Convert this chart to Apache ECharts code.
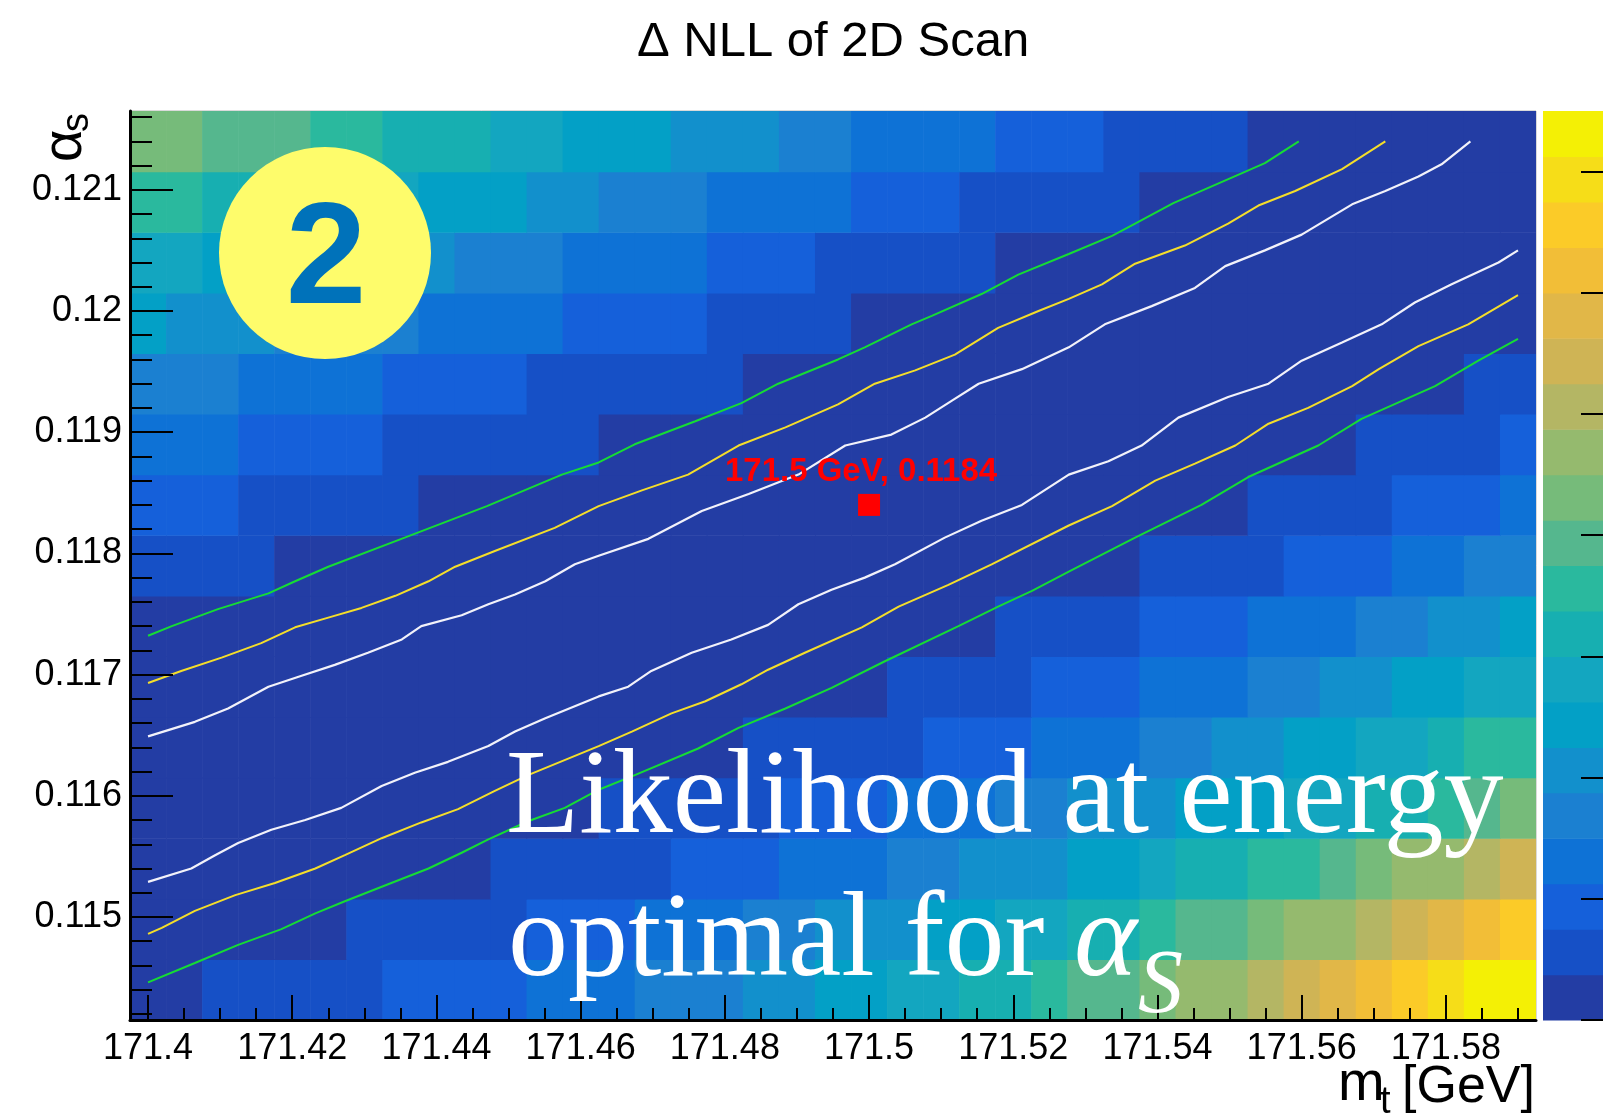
<!DOCTYPE html>
<html>
<head>
<meta charset="utf-8">
<script src="https://cdn.jsdelivr.net/npm/echarts@6.0.0/dist/echarts.min.js"></script>
<style>
  html, body { margin: 0; padding: 0; background: #fff; }
  #main { width: 1603px; height: 1116px; }
</style>
</head>
<body>
<div id="main"></div>
<script>
// bin centres of the scan
var mtCenters = [171.4, 171.405, 171.41, 171.415, 171.42, 171.425, 171.43, 171.435, 171.44, 171.445,
  171.45, 171.455, 171.46, 171.465, 171.47, 171.475, 171.48, 171.485, 171.49, 171.495,
  171.5, 171.505, 171.51, 171.515, 171.52, 171.525, 171.53, 171.535, 171.54, 171.545,
  171.55, 171.555, 171.56, 171.565, 171.57, 171.575, 171.58, 171.585, 171.59];
var alphaCenters = [0.1144, 0.1149, 0.1154, 0.1159, 0.1164, 0.1169, 0.1174, 0.1179,
  0.1184, 0.1189, 0.1194, 0.1199, 0.1204, 0.1209, 0.1214];

// delta NLL, one row per alpha_s bin
var nll_1144 = [0.3,0.35, 0.4,0.5,0.6,0.6,0.7, 0.8,0.9,1.0,1.1, 1.2,1.3,1.4, 1.6,1.7,1.8, 1.9,2.1, 2.4,2.5, 2.7,2.9, 3.1,3.3, 3.6, 3.9,4.0, 4.3, 4.6,4.8, 5.0, 5.4, 5.8, 6.2, 6.6, 6.9, 7.2,7.4];
var nll_1149 = [0.3,0.2,0.1,0.1,0.2,0.3, 0.4,0.5,0.6,0.6,0.7, 0.8,0.9,1.0, 1.2,1.3,1.4, 1.6,1.8, 1.9,2.1,2.2, 2.4,2.5, 2.7,2.9, 3.1,3.3, 3.6,3.9,4.0, 4.3, 4.6,4.8, 5.0, 5.4, 5.8, 6.2, 6.6];
var nll_1154 = [0.35,0.3,0.2,0.1,0.1,0.05,0.1,0.2,0.3,0.35, 0.4,0.5,0.6,0.6,0.7, 0.8,0.9,1.0, 1.2,1.3,1.4, 1.6,1.8, 1.9,2.1,2.2, 2.4,2.5, 2.8, 3.1,3.3, 3.5,3.7, 3.9, 4.3, 4.6,4.8, 5.0, 5.4];
var nll_1159 = [0.35,0.3,0.2,0.2,0.1,0.1,0.05,0.05,0.1,0.1,0.2,0.3,0.35, 0.4,0.5,0.5,0.6,0.7, 0.8,0.9,1.0, 1.2,1.3,1.4, 1.6,1.8, 1.9,2.1,2.2, 2.3,2.4,2.5, 2.7,2.9, 3.1,3.3, 3.5, 3.9, 4.3];
var nll_1164 = [0.35,0.3,0.3,0.2,0.2,0.1,0.1,0.1,0.05,0.05,0.05,0.1,0.1,0.2,0.2,0.3,0.35, 0.4,0.5,0.5,0.6,0.7, 0.8,0.9,1.0, 1.2,1.3,1.4, 1.6,1.8, 2.0,2.2, 2.4,2.5, 2.7,2.9, 3.2, 3.5,3.7];
var nll_1169 = [0.35,0.3,0.3,0.2,0.2,0.1,0.1,0.1,0.05,0.05,0.05,0.05,0.05,0.05,0.1,0.1,0.2,0.2,0.3,0.3,0.35, 0.4,0.5,0.6,0.7, 0.8,0.9,1.0, 1.2,1.3,1.4, 1.6,1.8, 2.0,2.2, 2.4,2.5, 2.7,2.9];
var nll_1174 = [0.35,0.3,0.3,0.2,0.2,0.1,0.1,0.1,0.05,0.05,0.05,0.05,0.05,0.05,0.05,0.05,0.1,0.1,0.1,0.2,0.2,0.3,0.3,0.35, 0.4,0.5,0.6,0.7, 0.8,0.9,1.0, 1.2,1.3,1.4, 1.6,1.8, 2.0,2.2, 2.4];
var nll_1179 = [0.6,0.5,0.5,0.4, 0.3,0.3,0.2,0.2,0.1,0.1,0.1,0.05,0.05,0.05,0.05,0.05,0.05,0.05,0.05,0.1,0.1,0.1,0.2,0.2,0.3,0.3,0.35,0.35, 0.4,0.5,0.6,0.7, 0.8,0.9,1.0, 1.2,1.4, 1.6,1.8];
var nll_1184 = [1.0,0.9,0.8, 0.7,0.6,0.6,0.5,0.4, 0.3,0.3,0.2,0.2,0.1,0.1,0.1,0.05,0.05,0.05,0.05,0.05,0.05,0.05,0.05,0.1,0.1,0.1,0.2,0.2,0.3,0.3,0.35, 0.4,0.5,0.6,0.7, 0.8,0.9,1.0, 1.2];
var nll_1189 = [1.4,1.3,1.2, 1.0,1.0,0.9,0.8, 0.7,0.7,0.6,0.5,0.5,0.4, 0.3,0.3,0.2,0.2,0.1,0.1,0.1,0.05,0.05,0.05,0.05,0.05,0.05,0.05,0.1,0.1,0.1,0.2,0.2,0.3,0.3, 0.4,0.5,0.6,0.7, 0.8];
var nll_1194 = [1.8,1.7,1.6, 1.4,1.4,1.3,1.2, 1.0,1.0,0.9,0.8, 0.7,0.7,0.6,0.5,0.5,0.4, 0.3,0.3,0.2,0.2,0.1,0.1,0.1,0.05,0.05,0.05,0.05,0.05,0.05,0.1,0.1,0.1,0.2,0.2,0.3,0.3, 0.4,0.5];
var nll_1199 = [2.4, 2.2,2.1,2.0, 1.8,1.8,1.7,1.6, 1.4,1.4,1.3,1.2, 1.0,1.0,0.9,0.8, 0.7,0.6,0.5,0.4, 0.3,0.3,0.2,0.2,0.1,0.1,0.1,0.1,0.05,0.05,0.05,0.05,0.05,0.1,0.1,0.1,0.1,0.2,0.2];
var nll_1204 = [2.9,2.8, 2.5,2.4,2.3, 2.2,2.1,2.0,1.9, 1.8,1.7,1.6, 1.4,1.3,1.3,1.2, 1.0,0.9,0.8, 0.7,0.6,0.6,0.5,0.4, 0.3,0.3,0.2,0.2,0.1,0.1,0.1,0.1,0.1,0.1,0.1,0.1,0.1,0.1,0.2];
var nll_1209 = [3.6,3.5, 3.3,3.2,3.1, 2.9,2.8,2.7, 2.5,2.4,2.3, 2.1,2.0, 1.8,1.7,1.6, 1.4,1.3,1.3,1.2, 1.0,0.9,0.8, 0.7,0.6,0.6,0.5,0.4, 0.3,0.3,0.2,0.2,0.2,0.1,0.1,0.1,0.1,0.1,0.1];
var nll_1214 = [4.3,4.2, 4.0,3.9,3.8, 3.6,3.5, 3.3,3.2,3.1, 2.9,2.8, 2.5,2.4,2.3, 2.2,2.1,2.0, 1.8,1.6, 1.4,1.3,1.3,1.2, 1.0,0.9,0.8, 0.7,0.6,0.5,0.4, 0.3,0.3,0.2,0.2,0.2,0.1,0.1,0.1];
var nllRows = [nll_1144, nll_1149, nll_1154, nll_1159, nll_1164, nll_1169, nll_1174, nll_1179,
  nll_1184, nll_1189, nll_1194, nll_1199, nll_1204, nll_1209, nll_1214];

// contour lines (two branches each)
var whiteUpper = [[171.4,0.11649],[171.4065,0.11661],[171.4111,0.11672],[171.4167,0.1169],[171.4213,0.11699],[171.4259,0.11708],[171.4305,0.11718],[171.4352,0.11729],[171.4379,0.1174],[171.4435,0.11749],[171.4472,0.11758],[171.4509,0.11766],[171.4551,0.11777],[171.4592,0.11791],[171.4625,0.11798],[171.4694,0.11812],[171.4768,0.11835],[171.4833,0.11849],[171.4902,0.11865],[171.4967,0.11889],[171.5031,0.11898],[171.5078,0.11912],[171.5115,0.11926],[171.5152,0.1194],[171.5212,0.11952],[171.5277,0.1197],[171.5327,0.11989],[171.5392,0.12004],[171.5452,0.12019],[171.5494,0.12037],[171.5549,0.1205],[171.56,0.12063],[171.567,0.12088],[171.5716,0.12099],[171.5762,0.12111],[171.5794,0.12121],[171.5834,0.1214]];
var whiteLower = [[171.4,0.11529],[171.406,0.1154],[171.4093,0.11551],[171.4125,0.11561],[171.4171,0.11572],[171.4218,0.1158],[171.4268,0.1159],[171.4324,0.11608],[171.437,0.11619],[171.4416,0.11628],[171.4472,0.11641],[171.4509,0.11653],[171.4551,0.11664],[171.4625,0.11682],[171.4666,0.1169],[171.4698,0.11703],[171.4754,0.11718],[171.4809,0.11729],[171.486,0.11741],[171.4902,0.11758],[171.4948,0.1177],[171.4994,0.1178],[171.5036,0.11791],[171.5105,0.11813],[171.5156,0.11827],[171.5212,0.1184],[171.5277,0.11865],[171.5332,0.11876],[171.5378,0.11889],[171.5429,0.11912],[171.5498,0.11929],[171.5554,0.1194],[171.56,0.11959],[171.5656,0.11974],[171.5711,0.11989],[171.5757,0.12007],[171.5808,0.12022],[171.5873,0.1204],[171.59,0.1205]];
var yellowUpper = [[171.4,0.11693],[171.4046,0.11703],[171.4102,0.11714],[171.4157,0.11726],[171.4204,0.11739],[171.425,0.11747],[171.4296,0.11755],[171.4343,0.11765],[171.4389,0.11777],[171.4426,0.11789],[171.4481,0.11802],[171.4564,0.11821],[171.4625,0.11839],[171.4685,0.11852],[171.4749,0.11865],[171.4819,0.11889],[171.4884,0.11904],[171.4957,0.11923],[171.5008,0.1194],[171.5064,0.11951],[171.5119,0.11964],[171.5179,0.11986],[171.5235,0.12],[171.5277,0.1201],[171.5323,0.12022],[171.5369,0.12039],[171.5438,0.12054],[171.5498,0.12072],[171.554,0.12087],[171.5591,0.12099],[171.5656,0.12117],[171.5716,0.1214]];
var yellowLower = [[171.4,0.11486],[171.4019,0.11491],[171.4065,0.11505],[171.4121,0.11518],[171.4176,0.11528],[171.4232,0.1154],[171.4273,0.11551],[171.4324,0.11565],[171.4379,0.11578],[171.443,0.11589],[171.4481,0.11604],[171.4527,0.11617],[171.4625,0.11641],[171.4671,0.11653],[171.4726,0.11668],[171.4773,0.11678],[171.4823,0.11692],[171.486,0.11704],[171.4911,0.11718],[171.499,0.11739],[171.5041,0.11756],[171.511,0.11774],[171.517,0.11791],[171.5277,0.11823],[171.5337,0.11839],[171.5397,0.1186],[171.5452,0.11874],[171.5508,0.11889],[171.5554,0.11907],[171.5609,0.1192],[171.567,0.11938],[171.5707,0.11952],[171.5762,0.11971],[171.5831,0.11989],[171.59,0.12013]];
var greenUpper = [[171.4,0.11732],[171.4033,0.1174],[171.4097,0.11754],[171.4167,0.11767],[171.4204,0.11777],[171.425,0.11789],[171.4356,0.11813],[171.447,0.11839],[171.4574,0.11865],[171.4625,0.11875],[171.4675,0.1189],[171.4759,0.11909],[171.4823,0.11924],[171.4874,0.1194],[171.4957,0.1196],[171.4994,0.1197],[171.5059,0.11989],[171.5087,0.11996],[171.5156,0.12014],[171.5207,0.1203],[171.5277,0.12047],[171.5337,0.12062],[171.5369,0.12072],[171.5422,0.12089],[171.5503,0.1211],[171.5549,0.12122],[171.5596,0.1214]];
var greenLower = [[171.4,0.11446],[171.4065,0.11462],[171.4125,0.11477],[171.4185,0.1149],[171.4232,0.11503],[171.4273,0.11513],[171.4333,0.11527],[171.4389,0.1154],[171.4435,0.11553],[171.4472,0.11564],[171.4527,0.11579],[171.4578,0.1159],[171.4625,0.11605],[171.4671,0.11616],[171.4763,0.11639],[171.4819,0.11656],[171.4884,0.11672],[171.4948,0.11689],[171.5022,0.11711],[171.5124,0.1174],[171.5179,0.11756],[171.5226,0.11769],[171.5277,0.11785],[171.5369,0.11813],[171.5461,0.1184],[171.5526,0.11863],[171.5623,0.11889],[171.5683,0.11911],[171.5785,0.11938],[171.5845,0.11959],[171.59,0.11977]];

var bestFit = [171.5, 0.1184];

// tick labels
var xTickLabels = ['171.4', '171.42', '171.44', '171.46', '171.48', '171.5', '171.52', '171.54', '171.56', '171.58'];
var yTickLabels = ['0.115', '0.116', '0.117', '0.118', '0.119', '0.12', '0.121'];
var zTickLabels = ['0', '1', '2', '3', '4', '5', '6', '7'];

// kBird-like palette, 20 contour levels
var palette = ['#233DA4', '#1650C6', '#1560DA', '#0E72D6', '#1B80D1', '#1290CC', '#03A0C6', '#13A6C0',
  '#17AFB1', '#2AB99E', '#55B78E', '#76BB7A', '#95BA6E', '#B4B664', '#CFB455', '#E1B748',
  '#F2BE37', '#FBCB28', '#F6DD18', '#F4F005'];
var zMax = 7.5;
var zStep = zMax / palette.length;
var binW = 0.005, binH = 0.0005;

var FONT = 'Liberation Sans';

var xMajor = xTickLabels.map(Number);
var yMajor = yTickLabels.map(Number);
var zMajor = zTickLabels.map(Number);
var xMinor = [], yMinor = [];
for (var k = 0; k <= 38; k++) xMinor.push(+(171.4 + k * 0.005).toFixed(3));
for (var k = 0; k <= 37; k++) yMinor.push(+(0.1142 + k * 0.0002).toFixed(4));

var cells = [];
alphaCenters.forEach(function (a, j) {
  nllRows[j].forEach(function (v, i) {
    cells.push([mtCenters[i], a, v]);
  });
});
var bands = palette.map(function (c, i) { return [0, i * zStep, (i + 0.5) * zStep]; });

var pieces = palette.map(function (c, i) {
  var p = { gte: i * zStep, color: c };
  if (i < palette.length - 1) p.lt = (i + 1) * zStep; else p.lte = zMax;
  return p;
});

function fmt(v) { return String(+(+v).toFixed(4)); }

function renderCell(params, api) {
  var p = api.coord([api.value(0) - binW / 2, api.value(1) + binH / 2]);
  var s = api.size([binW, binH]);
  return {
    type: 'rect',
    shape: { x: p[0], y: p[1], width: s[0] + 0.6, height: s[1] + 0.6 },
    style: { fill: api.visual('color') }
  };
}

function renderBand(params, api) {
  var p0 = api.coord([0, api.value(1) + zStep]);
  var p1 = api.coord([1, api.value(1)]);
  return {
    type: 'rect',
    shape: { x: p0[0], y: p0[1], width: p1[0] - p0[0], height: p1[1] - p0[1] + 0.6 },
    style: { fill: api.visual('color') }
  };
}

function contour(data, color, width) {
  return {
    type: 'line', xAxisIndex: 0, yAxisIndex: 0, data: data,
    showSymbol: false, symbol: 'none', silent: true, z: 3,
    lineStyle: { color: color, width: width }
  };
}

var myChart = echarts.init(document.getElementById('main'));
var option = {
  animation: false,
  backgroundColor: '#fff',
  title: {
    text: 'Δ NLL of 2D Scan',
    left: 632, top: 13,
    textStyle: { fontSize: 49, fontWeight: 'normal', color: '#000', fontFamily: FONT }
  },
  grid: [
    { left: 130, top: 111, width: 1406, height: 909, outerBoundsMode: 'none',
      show: true, borderColor: '#b4b4b4', borderWidth: 1, backgroundColor: 'transparent' },
    { left: 1543, top: 111, width: 68, height: 909, outerBoundsMode: 'none' }
  ],
  visualMap: {
    type: 'piecewise', show: false, dimension: 2, seriesIndex: [0, 1], pieces: pieces
  },
  xAxis: [
    {
      gridIndex: 0, type: 'value', min: 171.3975, max: 171.5925, position: 'bottom', z: 10,
      axisLine: { show: true, onZero: false, lineStyle: { color: '#000', width: 3 } },
      axisTick: { show: true, inside: true, length: 25, customValues: xMajor, lineStyle: { color: '#000', width: 2 } },
      axisLabel: { customValues: xMajor, formatter: fmt, fontSize: 36, color: '#000', fontFamily: FONT, margin: 11 },
      splitLine: { show: false }
    },
    {
      gridIndex: 0, type: 'value', min: 171.3975, max: 171.5925, position: 'bottom', z: 10,
      axisLine: { show: false, onZero: false },
      axisTick: { show: true, inside: true, length: 12, customValues: xMinor, lineStyle: { color: '#000', width: 2 } },
      axisLabel: { show: false },
      splitLine: { show: false }
    },
    { gridIndex: 1, type: 'value', min: 0, max: 1, show: false }
  ],
  yAxis: [
    {
      gridIndex: 0, type: 'value', min: 0.11415, max: 0.12165, position: 'left', z: 10,
      axisLine: { show: true, onZero: false, lineStyle: { color: '#000', width: 3 } },
      axisTick: { show: true, inside: true, length: 43, customValues: yMajor, lineStyle: { color: '#000', width: 2 } },
      axisLabel: { customValues: yMajor, formatter: fmt, fontSize: 36, color: '#000', fontFamily: FONT, margin: 8 },
      splitLine: { show: false }
    },
    {
      gridIndex: 0, type: 'value', min: 0.11415, max: 0.12165, position: 'left', z: 10,
      axisLine: { show: false, onZero: false },
      axisTick: { show: true, inside: true, length: 22, customValues: yMinor, lineStyle: { color: '#000', width: 2 } },
      axisLabel: { show: false },
      splitLine: { show: false }
    },
    {
      gridIndex: 1, type: 'value', min: 0, max: zMax, position: 'right', z: 10,
      axisLine: { show: true, onZero: false, lineStyle: { color: '#000', width: 2 } },
      axisTick: { show: true, inside: true, length: 30, customValues: zMajor, lineStyle: { color: '#000', width: 2 } },
      axisLabel: { customValues: zMajor, fontSize: 36, color: '#000', fontFamily: FONT },
      splitLine: { show: false }
    }
  ],
  series: [
    {
      type: 'custom', xAxisIndex: 0, yAxisIndex: 0, data: cells,
      renderItem: renderCell, clip: true, silent: true, z: 1
    },
    {
      type: 'custom', xAxisIndex: 2, yAxisIndex: 2, data: bands,
      renderItem: renderBand, silent: true, z: 1
    },
    contour(greenUpper, '#16DC34', 2),
    contour(greenLower, '#16DC34', 2),
    contour(yellowUpper, '#F4DE2A', 2),
    contour(yellowLower, '#F4DE2A', 2),
    contour(whiteUpper, '#F2F2FA', 2.2),
    contour(whiteLower, '#F2F2FA', 2.2),
    {
      type: 'scatter', xAxisIndex: 0, yAxisIndex: 0, data: [bestFit],
      symbol: 'rect', symbolSize: 22, itemStyle: { color: '#ff0000', opacity: 1 }, z: 5, silent: true,
      label: {
        show: true, position: 'top', distance: 5, offset: [-8, 0],
        formatter: function (p) { return p.value[0] + ' GeV, ' + p.value[1]; },
        color: '#ff0000', fontSize: 33, fontWeight: 'bold', fontFamily: FONT
      }
    }
  ],
  graphic: [
    { type: 'circle', z: 100, shape: { cx: 325, cy: 253, r: 106 }, style: { fill: '#FEFC6B' } },
    { type: 'text', z: 101, x: 326, y: 263,
      style: { text: '2', fontSize: 145, fontWeight: 'bold', fontFamily: FONT, fill: '#0072BA', align: 'center', verticalAlign: 'middle' } },
    { type: 'text', z: 100, x: 506, y: 800,
      style: { text: 'Likelihood at energy', fontSize: 120, fontFamily: 'Liberation Serif', fill: '#fff', align: 'left', verticalAlign: 'middle' } },
    { type: 'text', z: 100, x: 508, y: 943,
      style: { text: 'optimal for', fontSize: 120, fontFamily: 'Liberation Serif', fill: '#fff', align: 'left', verticalAlign: 'middle' } },
    { type: 'text', z: 100, x: 1074, y: 943,
      style: { text: 'α', fontSize: 120, fontStyle: 'italic', fontFamily: 'Liberation Serif', fill: '#fff', align: 'left', verticalAlign: 'middle' } },
    { type: 'text', z: 100, x: 1138, y: 988,
      style: { text: 'S', fontSize: 90, fontStyle: 'italic', fontFamily: 'Liberation Serif', fill: '#fff', align: 'left', verticalAlign: 'middle' } },
    // axis titles
    { type: 'text', z: 100, x: 1338, y: 1085,
      style: { text: 'm', fontSize: 56, fontFamily: FONT, fill: '#000', align: 'left', verticalAlign: 'middle' } },
    { type: 'text', z: 100, x: 1380, y: 1103,
      style: { text: 't', fontSize: 38, fontFamily: FONT, fill: '#000', align: 'left', verticalAlign: 'middle' } },
    { type: 'text', z: 100, x: 1535, y: 1088,
      style: { text: '[GeV]', fontSize: 52, fontFamily: FONT, fill: '#000', align: 'right', verticalAlign: 'middle' } },
    { type: 'group', x: 66, y: 142, rotation: Math.PI / 2, z: 100,
      children: [
        { type: 'text', x: -20, y: 0, style: { text: 'α', fontSize: 56, fontFamily: FONT, fill: '#000', align: 'left', verticalAlign: 'middle' } },
        { type: 'text', x: 10, y: 12, style: { text: 's', fontSize: 38, fontFamily: FONT, fill: '#000', align: 'left', verticalAlign: 'middle' } }
      ] }
  ]
};
myChart.setOption(option);
</script>
</body>
</html>
